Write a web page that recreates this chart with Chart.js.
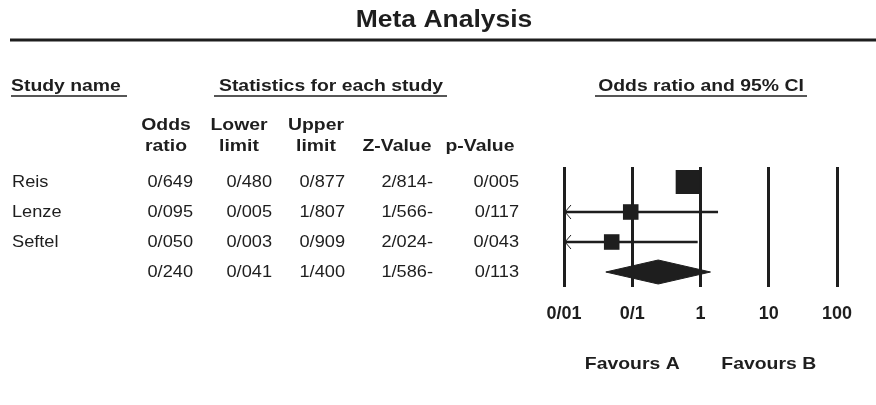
<!DOCTYPE html>
<html>
<head>
<meta charset="utf-8">
<style>
  html, body { margin: 0; padding: 0; background: #fff; }
  #wrap { width: 876px; height: 405px; }
</style>
<script src="https://cdn.jsdelivr.net/npm/chart.js@4/dist/chart.umd.min.js"></script>
</head>
<body>
<div id="wrap"><canvas id="forest" width="876" height="405"></canvas></div>
<script>
// study data
const studies = ['Reis', 'Lenze', 'Seftel', ''];
const oddsRatio = [0.649, 0.095, 0.050, 0.240];
const lowerLimit = [0.480, 0.005, 0.003, 0.041];
const upperLimit = [0.877, 1.807, 0.909, 1.400];
const zValue = [-2.814, -1.566, -2.024, -1.586];
const pValue = [0.005, 0.117, 0.043, 0.113];
const tickValues = [0.01, 0.1, 1, 10, 100];
const tickLabels = ['0/01', '0/1', '1', '10', '100'];

const INK = '#1e1e1e';
const FONT = '"Liberation Sans", Arial, Helvetica, sans-serif';

function fmt(v) {
    return v.toFixed(3).replace('.', '/');
}
function fmtZ(v) {
    return Math.abs(v).toFixed(3).replace('.', '/') + (v < 0 ? '-' : '');
}

// text with a slight horizontal stretch like the original figure
function txt(ctx, s, x, y, size, bold, align, sx) {
    ctx.save();
    ctx.font = (bold ? 'bold ' : '') + size + 'px ' + FONT;
    ctx.textBaseline = 'middle';
    ctx.textAlign = align;
    ctx.fillStyle = INK;
    ctx.translate(x, y);
    ctx.scale(sx, 1);
    ctx.fillText(s, 0, 0);
    ctx.restore();
}

function hline(ctx, x1, x2, y, w) {
    ctx.save();
    ctx.strokeStyle = INK;
    ctx.lineWidth = w;
    ctx.beginPath();
    ctx.moveTo(x1, y);
    ctx.lineTo(x2, y);
    ctx.stroke();
    ctx.restore();
}

const tablePlugin = {
    id: 'forestTable',
    afterDatasetsDraw(chart) {
        const ctx = chart.ctx;
        const xs = chart.scales.x;
        const ys = chart.scales.y;

        // arrows where the lower limit runs off the axis
        ctx.save();
        ctx.strokeStyle = INK;
        ctx.lineWidth = 1;
        for (let i = 0; i < 3; i++) {
            if (lowerLimit[i] < xs.min) {
                const y = ys.getPixelForValue(i);
                const x = xs.left + 1;
                ctx.beginPath();
                ctx.moveTo(x + 6, y - 7);
                ctx.lineTo(x, y);
                ctx.lineTo(x + 6, y + 7);
                ctx.stroke();
            }
        }
        ctx.restore();
    },
    afterDraw(chart) {
        const ctx = chart.ctx;
        const xs = chart.scales.x;
        const ys = chart.scales.y;
        const bs = 1.14, rs = 1.07;

        txt(ctx, 'Meta Analysis', 444, 21, 23, true, 'center', 1.15);
        hline(ctx, 10, 876, 40, 3);

        txt(ctx, 'Study name', 11, 86, 17, true, 'left', bs);
        hline(ctx, 11, 127, 96, 1.5);
        txt(ctx, 'Statistics for each study', 331, 86, 17, true, 'center', bs);
        hline(ctx, 214, 447, 96, 1.5);
        txt(ctx, 'Odds ratio and 95% CI', 701, 86, 17, true, 'center', bs);
        hline(ctx, 595, 807, 96, 1.5);

        const heads = [['Odds', 'ratio'], ['Lower', 'limit'], ['Upper', 'limit'], ['', 'Z-Value'], ['', 'p-Value']];
        const headX = [166, 239, 316, 397, 480];
        heads.forEach((h, k) => {
            if (h[0]) txt(ctx, h[0], headX[k], 125, 17, true, 'center', bs);
            txt(ctx, h[1], headX[k], 146, 17, true, 'center', bs);
        });

        const colX = [193, 272, 345, 433, 519];
        studies.forEach((name, i) => {
            const y = ys.getPixelForValue(i);
            if (name) txt(ctx, name, 12, y, 17, false, 'left', rs);
            txt(ctx, fmt(oddsRatio[i]), colX[0], y, 17, false, 'right', rs);
            txt(ctx, fmt(lowerLimit[i]), colX[1], y, 17, false, 'right', rs);
            txt(ctx, fmt(upperLimit[i]), colX[2], y, 17, false, 'right', rs);
            txt(ctx, fmtZ(zValue[i]), colX[3], y, 17, false, 'right', rs);
            txt(ctx, fmt(pValue[i]), colX[4], y, 17, false, 'right', rs);
        });

        txt(ctx, 'Favours A', xs.getPixelForValue(0.1), 364, 17, true, 'center', bs);
        txt(ctx, 'Favours B', xs.getPixelForValue(10), 364, 17, true, 'center', bs);
    }
};

const n = studies.length - 1;
const ciSets = [];
for (let i = 0; i < n; i++) {
    ciSets.push({
        data: [{ x: lowerLimit[i], y: i }, { x: upperLimit[i], y: i }],
        showLine: true,
        borderColor: INK,
        borderWidth: 2.5,
        pointRadius: 0,
        clip: 0
    });
}

const s = n; // summary row
const diamond = {
    data: [
        { x: lowerLimit[s], y: s },
        { x: oddsRatio[s], y: s - 0.4 },
        { x: upperLimit[s], y: s },
        { x: oddsRatio[s], y: s + 0.4 },
        { x: lowerLimit[s], y: s }
    ],
    showLine: true,
    fill: 'shape',
    backgroundColor: INK,
    borderColor: INK,
    borderWidth: 1,
    pointRadius: 0,
    tension: 0
};

const squares = {
    data: oddsRatio.slice(0, n).map((v, i) => ({ x: v, y: i })),
    pointStyle: 'rect',
    pointRadius: [17, 11, 11],
    backgroundColor: INK,
    borderWidth: 0,
    showLine: false
};

new Chart(document.getElementById('forest'), {
    type: 'scatter',
    data: { datasets: [squares, diamond].concat(ciSets) },
    options: {
        responsive: false,
        animation: false,
        events: [],
        layout: { padding: { left: 564, right: 39, top: 167, bottom: 0 } },
        plugins: { legend: { display: false }, tooltip: { enabled: false } },
        scales: {
            x: {
                type: 'logarithmic',
                min: 0.01,
                max: 100,
                afterBuildTicks: scale => { scale.ticks = tickValues.map(v => ({ value: v })); },
                afterFit: scale => { scale.height = 118; },
                grid: { color: INK, lineWidth: 3, drawTicks: false },
                border: { display: false },
                ticks: {
                    autoSkip: false,
                    maxRotation: 0,
                    padding: 16,
                    color: INK,
                    font: { family: FONT, size: 18, weight: 'bold' },
                    callback: (v, idx) => tickLabels[idx]
                }
            },
            y: {
                type: 'linear',
                min: -0.5,
                max: 3.5,
                reverse: true,
                display: false
            }
        }
    },
    plugins: [tablePlugin]
});
</script>
</body>
</html>
